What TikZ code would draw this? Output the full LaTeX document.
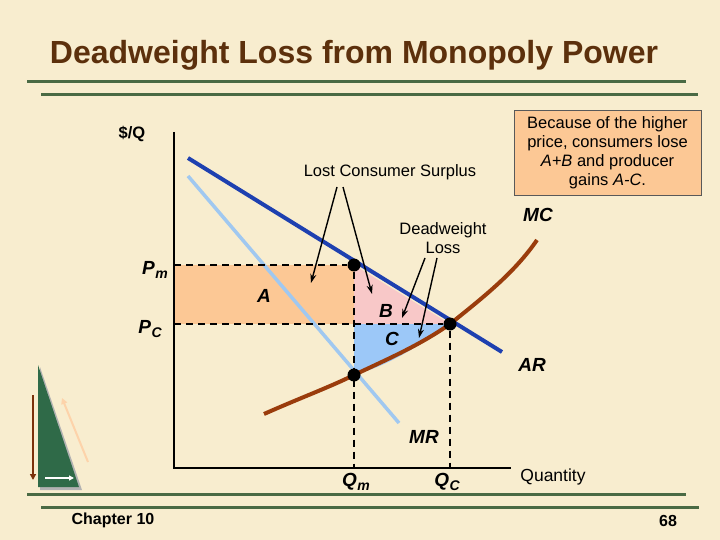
\documentclass[tikz,border=0pt]{standalone}
\usepackage{fontspec}
\setmainfont{Liberation Sans}
\usetikzlibrary{arrows.meta}
\definecolor{bg}{HTML}{F8EDCF}
\definecolor{ttl}{HTML}{5C300C}
\definecolor{grn}{HTML}{4A6A44}
\definecolor{trig}{HTML}{2F6A48}
\definecolor{dkblue}{HTML}{1E40B0}
\definecolor{ltblue}{HTML}{A0C8F0}
\definecolor{brn}{HTML}{9A3C0C}
\definecolor{orng}{HTML}{FCC895}
\definecolor{pnk}{HTML}{F8C8C8}
\definecolor{blu}{HTML}{9CC8F8}
\begin{document}
\begin{tikzpicture}[x=1pt,y=-1pt,
  lbl/.style={font=\bfseries\fontsize{16.5}{19}\selectfont},
  ilbl/.style={font=\bfseries\itshape\fontsize{19}{22}\selectfont},
  dashln/.style={dashed,dash pattern=on 7pt off 5pt,line width=1.5pt},
  ptr/.style={-{Stealth[length=9pt,width=6pt]},line width=1.4pt},
  dot/.style={circle,fill=black,inner sep=0pt,minimum size=13pt},
  gline/.style={grn,line width=3pt}]
\fill[bg] (0,0) rectangle (720,540);
\useasboundingbox (0,0) rectangle (720,540);
% title
\node[font=\bfseries\fontsize{32}{36}\selectfont,text=ttl] (title) at (354,55) {Deadweight Loss from Monopoly Power};
\draw[gline] (27,82) -- (686,82);
\draw[gline] (41,95) -- (698,95);
\draw[gline] (27,494) -- (686,494);
\draw[gline] (41,507) -- (699,507);
\node[lbl,font=\bfseries\fontsize{16}{18}\selectfont] (ch) at (113,520) {Chapter 10};
\node[lbl,font=\bfseries\fontsize{16}{18}\selectfont] (pg) at (668,521) {68};
% decoration
\fill[gray!60] (40,367) -- (82,490) -- (40,490) -- cycle;
\fill[trig] (38,365) -- (79,487) -- (38,487) -- cycle;
\draw[brn!80!black,line width=1.3pt,-{Triangle[length=6pt,width=6pt]}] (33,395) -- (33,480);
\draw[white,line width=1.3pt,-{Triangle[length=5pt,width=5pt]}] (45,478) -- (74,478);
\draw[orng!80,line width=2pt,-{Triangle[length=6pt,width=6pt]}] (88,462) -- (62,398);
% shaded areas
\fill[orng] (174,265) rectangle (354,324);
\fill[pnk] (354,265) -- (354,324) -- (450,324) -- cycle;
\fill[blu] (354,324) -- (450,324) .. controls (420,345) and (390,365) .. (354,375) -- cycle;
% axes
\coordinate (ytop) at (174,132);
\coordinate (orig) at (174,468);
\coordinate (xend) at (511,468);
\draw[line width=1.8pt] (ytop) -- (orig) -- (xend);
% curves
\coordinate (mrs) at (188,176); \coordinate (mre) at (399,423);
\draw[ltblue,line width=3.5pt] (mrs) -- (mre);
\coordinate (ars) at (188,158); \coordinate (are) at (502,352);
\draw[dkblue,line width=4pt] (ars) -- (are);
\draw[brn,line width=4pt] (264,414) .. controls (300,398) and (330,387) .. (354,375)
  .. controls (390,358) and (420,345) .. (450,324) .. controls (485,296) and (515,272) .. (537,240);
% dashes
\node[dot] (dm) at (354,265) {};
\node[dot] (dc) at (450,324) {};
\node[dot] (dmc) at (354,375) {};
\draw[dashln] (174,265) -- (dm);
\draw[dashln] (174,324) -- (dc);
\draw[dashln] (dm) -- (354,468);
\draw[dashln] (dc) -- (450,468);
% labels
\node[lbl] (dq) at (132,134) {\$/Q};
\node[ilbl] (pm) at (155,270) {P\kern0.5pt\raisebox{-4pt}{\fontsize{14}{14}\selectfont m}};
\node[ilbl] (pc) at (150,329) {P\kern0.5pt\raisebox{-4pt}{\fontsize{14}{14}\selectfont C}};
\node[ilbl] (qm) at (356,482) {Q\kern0.5pt\raisebox{-4pt}{\fontsize{14}{14}\selectfont m}};
\node[ilbl] (qc) at (447,482) {Q\kern0.5pt\raisebox{-4pt}{\fontsize{14}{14}\selectfont C}};
\node[lbl,font=\fontsize{17.5}{20}\selectfont] (qty) at (553,477) {Quantity};
\node[ilbl] (la) at (264,296) {A};
\node[ilbl] (lb) at (386,311) {B};
\node[ilbl] (lc) at (392,339) {C};
\node[ilbl] (mc) at (538,215) {MC};
\node[ilbl] (ar) at (532,365) {AR};
\node[ilbl] (mr) at (424,437) {MR};
\node[lbl,font=\fontsize{16.5}{19}\selectfont] (lcs) at (390,172) {Lost Consumer Surplus};
\node[lbl,font=\fontsize{16.5}{19}\selectfont,align=center] (dwl) at (443,238) {Deadweight\\Loss};
\node[draw=gray!70!black,fill=orng,line width=0.8pt,minimum width=187pt,minimum height=85pt,inner sep=2pt,align=center,font=\fontsize{16.5}{19}\selectfont] (box) at (607.5,152.5)
 {Because of the higher\\price, consumers lose\\\textit{A+B} and producer\\gains \textit{A-C}.};
\coordinate (l1) at (337,187); \coordinate (l2) at (343,187);
\coordinate (t1) at (311,283); \coordinate (t2) at (372,294);
\draw[ptr] (l1) -- (t1);
\draw[ptr] (l2) -- (t2);
\coordinate (d1) at (425,258); \coordinate (d2) at (437,258);
\coordinate (u1) at (402,318); \coordinate (u2) at (419,338);
\draw[ptr] (d1) -- (u1);
\draw[ptr] (d2) -- (u2);
\end{tikzpicture}
\end{document}
